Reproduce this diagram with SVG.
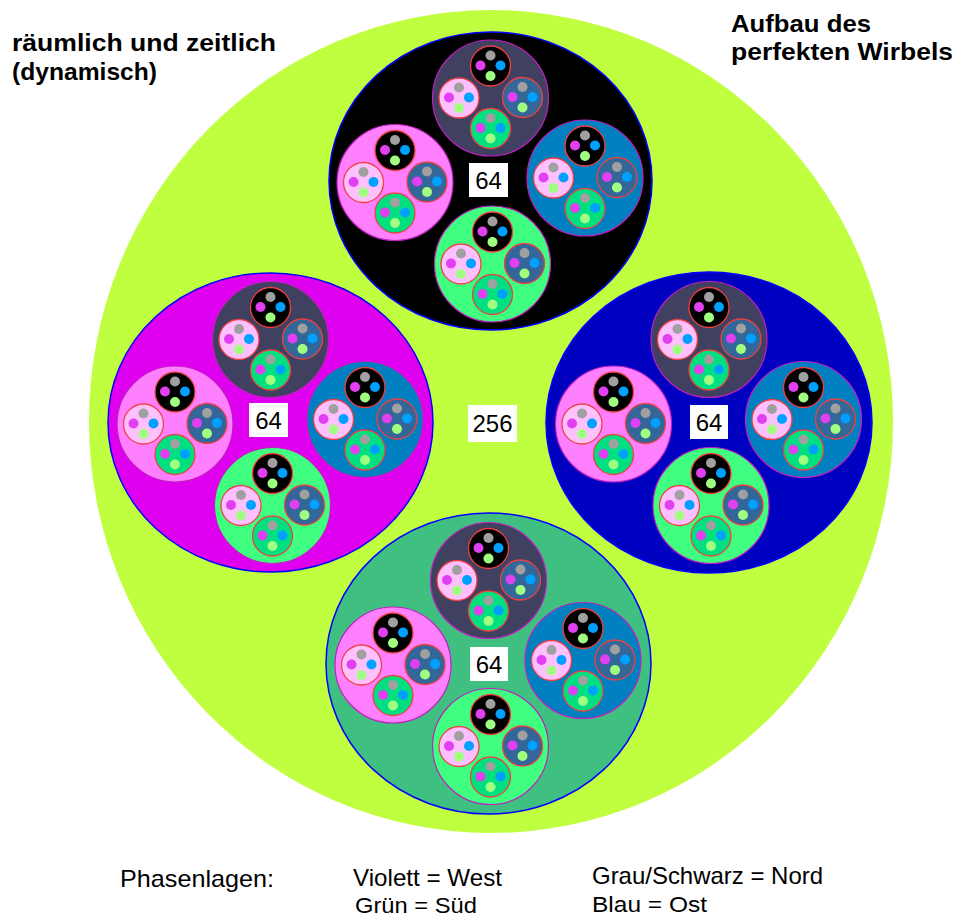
<svg xmlns="http://www.w3.org/2000/svg" width="958" height="920" viewBox="0 0 958 920">
<style>
.t{font-family:"Liberation Sans",Arial,sans-serif;fill:#000}
.b{font-weight:bold;font-size:24px}
.lg{font-size:24px}
.lg2{font-size:22px}
.num{font-size:24px;text-anchor:middle}
.box{fill:#fff}
.l1{stroke:#0000ff;stroke-width:1.5}
.l2{stroke:#c020c0;stroke-width:1.2}
.l3{stroke:#f04040;stroke-width:1.3}
</style>
<defs>
<g id="dots">
<circle cy="-10.5" r="5" fill="#a0a0a0"/>
<circle cx="-10" cy="-0.5" r="5" fill="#e040f0"/>
<circle cx="10" cy="-0.5" r="5" fill="#00a0ff"/>
<circle cy="10" r="5" fill="#a0ff80"/>
</g>
<g id="l2in">
<circle class="l3" cy="-32" r="20" fill="#000000"/>
<use href="#dots" y="-32"/>
<circle class="l3" cx="-31.5" r="20" fill="#ffc0ff"/>
<use href="#dots" x="-31.5"/>
<circle class="l3" cx="32" cy="-0.5" r="20" fill="#336699"/>
<use href="#dots" x="32" y="-0.5"/>
<circle class="l3" cy="30.5" r="20" fill="#00e080"/>
<use href="#dots" y="30.5"/>
</g>
<g id="l1in">
<circle class="l2" cy="-83" r="58" fill="#404060"/><use href="#l2in" y="-83"/>
<circle class="l2" cx="-95.5" cy="1.5" r="58" fill="#ff80ff"/><use href="#l2in" x="-95.5" y="1.5"/>
<circle class="l2" cx="94.5" cy="-3" r="58" fill="#0080c0"/><use href="#l2in" x="94.5" y="-3"/>
<circle class="l2" cx="2" cy="83" r="58" fill="#40ff80"/><use href="#l2in" x="2" y="83"/>
</g>
</defs>

<g id="outer">
<ellipse cx="491" cy="421.5" rx="402" ry="411.5" fill="#c0ff40"/>
<rect class="box" x="468" y="405" width="49" height="37"/>
<text class="t num" x="492.5" y="432">256</text>
</g>

<g id="node-nord">
<ellipse class="l1" cx="490.5" cy="181" rx="161.5" ry="149" fill="#000000"/>
<use href="#l1in" x="490.5" y="181"/>
<rect class="box" x="469" y="163" width="39" height="34"/>
<text class="t num" x="488.5" y="189">64</text>
</g>

<g id="node-west">
<ellipse class="l1" cx="270.5" cy="422.5" rx="162.5" ry="149.5" fill="#e000f0"/>
<use href="#l1in" x="270.5" y="422.5"/>
<rect class="box" x="249" y="403" width="39" height="34"/>
<text class="t num" x="268.5" y="429">64</text>
</g>

<g id="node-ost">
<ellipse class="l1" cx="709" cy="422.5" rx="163" ry="150.5" fill="#0000c0"/>
<use href="#l1in" x="709" y="422.5"/>
<rect class="box" x="690" y="405" width="38" height="34"/>
<text class="t num" x="709" y="431">64</text>
</g>

<g id="node-sued">
<ellipse class="l1" cx="488.5" cy="663.5" rx="162.5" ry="150.5" fill="#40c080"/>
<use href="#l1in" x="488.5" y="663.5"/>
<rect class="box" x="470" y="647" width="38" height="34"/>
<text class="t num" x="489" y="673">64</text>
</g>

<g id="titles">
<text class="t b" x="12" y="51" textLength="264" lengthAdjust="spacingAndGlyphs">räumlich und zeitlich</text>
<text class="t b" x="12" y="80" textLength="145" lengthAdjust="spacingAndGlyphs">(dynamisch)</text>
<text class="t b" x="731" y="32" textLength="140" lengthAdjust="spacingAndGlyphs">Aufbau des</text>
<text class="t b" x="731" y="60" textLength="222" lengthAdjust="spacingAndGlyphs">perfekten Wirbels</text>
</g>

<g id="legend">
<text class="t lg" x="120" y="887" textLength="154" lengthAdjust="spacingAndGlyphs">Phasenlagen:</text>
<text class="t lg" x="353" y="886" textLength="149" lengthAdjust="spacingAndGlyphs">Violett = West</text>
<text class="t lg2" x="355" y="913" textLength="122" lengthAdjust="spacingAndGlyphs">Grün = Süd</text>
<text class="t lg" x="592" y="884" textLength="231" lengthAdjust="spacingAndGlyphs">Grau/Schwarz = Nord</text>
<text class="t lg2" x="592" y="912" textLength="115" lengthAdjust="spacingAndGlyphs">Blau = Ost</text>
</g>
</svg>
